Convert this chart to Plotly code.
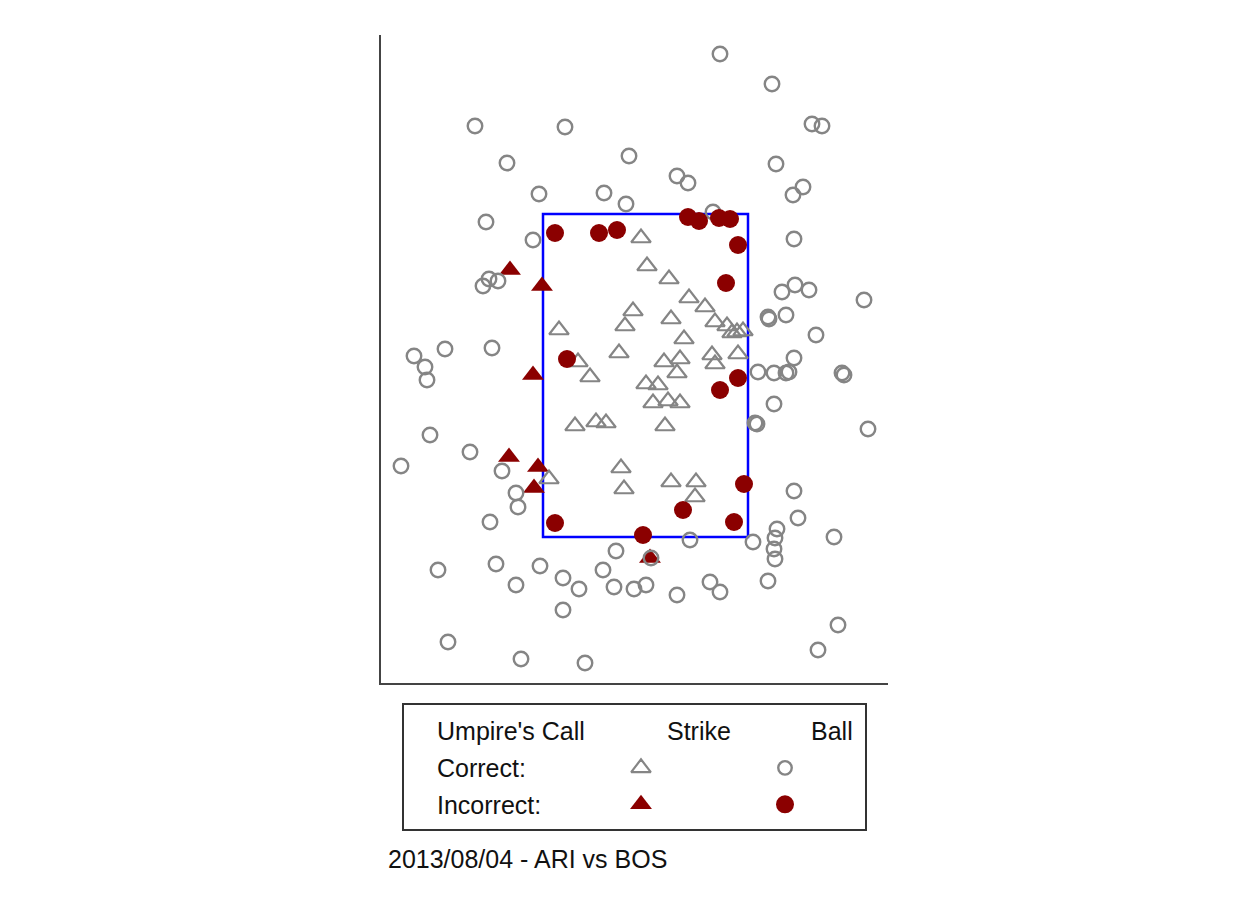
import plotly.graph_objects as go

# Pitch locations (horizontal, vertical) in location units
ball_ok_x = [7.5, 12.7, -17.0, -8.0, 16.7, 17.7, -13.8, -1.6, 13.1, 3.2, 4.3, -10.6, -4.1, -1.9, 15.8, 14.8,
             -15.9, -11.2, 6.8, 14.9, -16.2, -15.6, -14.7, 13.7, 15.0, 16.4, 21.9, 12.3, 12.4, 14.1, 17.1,
             -23.1, -20.0, -15.3, -22.0, -21.8, 14.9, 11.3, 12.9, 14.1, 14.4, 19.7, 19.9, 12.9, 11.0, 11.2,
             22.3, -21.5, -17.5, -24.4, -14.3, -12.9, -12.7, -15.5, 14.9, 15.3, 18.9, 13.2, 13.0, 12.9, 13.0,
             10.8, 4.5, -2.9, -20.7, -14.9, -10.5, -8.2, -12.9, -6.6, -4.2, -3.1, -1.1, 0.1, 3.2, 6.5, 7.5,
             12.3, -8.2, -19.7, -12.4, -6.0, 19.3, 17.3, 0.6]
ball_ok_y = [62.9, 59.9, 55.7, 55.6, 55.9, 55.7, 52.0, 52.7, 51.9, 50.7, 50.0, 48.9, 49.0, 47.9, 49.6, 48.8,
             46.1, 44.3, 47.1, 44.4, 39.7, 40.4, 40.2, 39.1, 39.8, 39.3, 38.3, 36.6, 36.4, 36.8, 34.8,
             32.7, 33.4, 33.5, 31.6, 30.3, 32.5, 31.1, 31.0, 31.0, 31.1, 31.0, 30.8, 27.9, 26.0, 25.9,
             25.4, 24.8, 23.1, 21.7, 21.2, 19.0, 17.6, 16.1, 19.2, 16.5, 14.6, 15.4, 14.5, 13.4, 12.4,
             14.1, 14.3, 13.2, 11.3, 11.9, 11.7, 10.5, 9.8, 9.4, 11.3, 9.6, 9.4, 9.8, 8.8, 10.1, 9.1,
             10.2, 7.3, 4.1, 2.4, 2.0, 5.8, 3.3, 12.5]

strike_ok_x = [-0.4, 0.2, 2.4, 4.4, 6.0, -1.2, 2.6, 7.0, 8.2, 8.7, 9.2, 9.8, -2.0, -8.6, 3.9, -2.6, -6.7,
               -5.5, 1.9, 3.5, 6.7, 7.0, 9.3, 3.2, 0.1, 1.3, 0.8, 2.3, 3.5, -7.0, -4.9, -3.9, 2.0, -9.6,
               -2.4, -2.1, 2.6, 5.1, 5.0]
strike_ok_y = [44.5, 41.7, 40.4, 38.5, 37.6, 37.2, 36.4, 36.1, 35.7, 35.0, 35.1, 35.2, 35.7, 35.3, 34.4,
               33.0, 32.1, 30.6, 32.1, 32.4, 32.8, 31.9, 32.9, 31.0, 29.9, 29.8, 28.0, 28.2, 28.0, 25.7,
               26.1, 26.0, 25.7, 20.4, 21.5, 19.4, 20.1, 20.1, 18.6]

strike_bad_x = [-13.5, -10.3, -11.2, -13.6, -10.7, -11.1, 0.5]
strike_bad_y = [41.3, 39.7, 30.8, 22.6, 21.6, 19.5, 12.5]

ball_bad_x = [-9.0, -4.6, -2.8, 4.3, 5.4, 7.4, 8.5, 9.3, 8.1, -7.8, 9.3, 7.5, 9.9, 3.8, 8.9, -9.0, -0.2]
ball_bad_y = [45.0, 45.0, 45.3, 46.6, 46.2, 46.5, 46.4, 43.8, 40.0, 32.4, 30.5, 29.3, 19.9, 17.3, 16.1, 16.0, 14.8]

zone_x = [-10.2, 10.3]
zone_y = [14.6, 46.9]

x_range = [-26.4, 24.3]
y_range = [0, 64.8]

legend_cols = ["Strike", "Ball"]
legend_rows = ["Correct:", "Incorrect:"]
caption = "2013/08/04 - ARI vs BOS"

GRAY = "#858585"
RED = "#8b0000"
W, H = 1249, 905
OFF = 8  # page body margin
FONT = "Liberation Sans, Arial, sans-serif"

fig = go.Figure()

fig.add_trace(go.Scatter(x=strike_bad_x, y=strike_bad_y, mode="markers",
                         marker=dict(symbol="triangle-up", size=19, color=RED, line=dict(width=0))))
fig.add_trace(go.Scatter(x=strike_ok_x, y=strike_ok_y, mode="markers",
                         marker=dict(symbol="triangle-up-open", size=17, color=GRAY, line=dict(width=2.2, color=GRAY))))
fig.add_trace(go.Scatter(x=ball_ok_x, y=ball_ok_y, mode="markers",
                         marker=dict(symbol="circle-open", size=14.5, color=GRAY, line=dict(width=2.4, color=GRAY))))
fig.add_trace(go.Scatter(x=ball_bad_x, y=ball_bad_y, mode="markers",
                         marker=dict(symbol="circle", size=18, color=RED, line=dict(width=0))))

# strike zone
fig.add_shape(type="rect", xref="x", yref="y", x0=zone_x[0], x1=zone_x[1], y0=zone_y[0], y1=zone_y[1],
              line=dict(color="#0000ff", width=2.5), layer="below")

# legend markers on a second pair of axes (columns: Strike=0, Ball=1; rows: Correct=1, Incorrect=0)
fig.add_trace(go.Scatter(x=[0], y=[1], xaxis="x2", yaxis="y2", mode="markers",
                         marker=dict(symbol="triangle-up-open", size=17, color=GRAY, line=dict(width=2.2, color=GRAY))))
fig.add_trace(go.Scatter(x=[1], y=[1], xaxis="x2", yaxis="y2", mode="markers",
                         marker=dict(symbol="circle-open", size=13.5, color=GRAY, line=dict(width=2.4, color=GRAY))))
fig.add_trace(go.Scatter(x=[0], y=[0], xaxis="x2", yaxis="y2", mode="markers",
                         marker=dict(symbol="triangle-up", size=19, color=RED, line=dict(width=0))))
fig.add_trace(go.Scatter(x=[1], y=[0], xaxis="x2", yaxis="y2", mode="markers",
                         marker=dict(symbol="circle", size=18, color=RED, line=dict(width=0))))

def px(v):
    return (v - OFF) / W

def py(v):
    return (H - (v - OFF)) / H

# legend box
fig.add_shape(type="rect", xref="paper", yref="paper", x0=px(403), x1=px(866), y0=py(830), y1=py(704),
              line=dict(color="#333333", width=2))

tfont = dict(family=FONT, size=25, color="#111111")
fig.add_annotation(x=px(435), y=py(731), xref="paper", yref="paper", text="Umpire's Call",
                   showarrow=False, xanchor="left", yanchor="middle", font=tfont)
fig.add_annotation(x=px(699), y=py(731), xref="paper", yref="paper", text=legend_cols[0],
                   showarrow=False, xanchor="center", yanchor="middle", font=tfont)
fig.add_annotation(x=px(832), y=py(731), xref="paper", yref="paper", text=legend_cols[1],
                   showarrow=False, xanchor="center", yanchor="middle", font=tfont)
fig.add_annotation(x=px(435), y=py(768), xref="paper", yref="paper", text=legend_rows[0],
                   showarrow=False, xanchor="left", yanchor="middle", font=tfont)
fig.add_annotation(x=px(435), y=py(805), xref="paper", yref="paper", text=legend_rows[1],
                   showarrow=False, xanchor="left", yanchor="middle", font=tfont)
fig.add_annotation(x=px(386), y=py(859), xref="paper", yref="paper", text=caption,
                   showarrow=False, xanchor="left", yanchor="middle", font=tfont)

axis_common = dict(showgrid=False, zeroline=False, showticklabels=False, ticks="")
fig.update_layout(
    width=W, height=H, autosize=False,
    margin=dict(l=0, r=0, t=0, b=0),
    paper_bgcolor="white", plot_bgcolor="white",
    showlegend=False,
    xaxis=dict(domain=[px(381), px(888)], range=x_range, showline=True, linecolor="#444444", linewidth=2,
               mirror=False, **axis_common),
    yaxis=dict(domain=[py(683), py(35)], range=y_range, showline=True, linecolor="#444444", linewidth=2,
               mirror=False, **axis_common),
    xaxis2=dict(domain=[px(600), px(830)], range=[-0.2847, 1.3125], anchor="y2", visible=False),
    yaxis2=dict(domain=[py(830), py(704)], range=[-0.703, 2.75], anchor="x2", visible=False),
)

fig.write_html("out.html")
